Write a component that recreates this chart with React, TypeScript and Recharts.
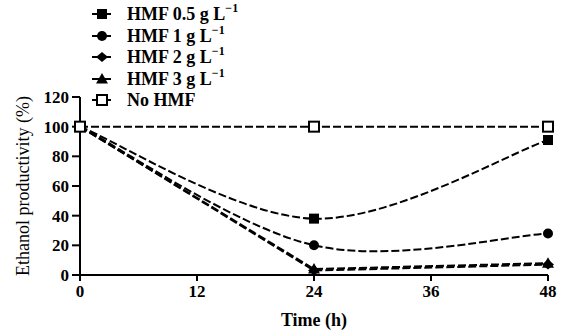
import React from "react";
import { LineChart, Line, XAxis, YAxis, Label } from "recharts";

const times = [0, 24, 48];
const hmf05 = [100, 38, 91];
const hmf1 = [100, 20, 28];
const hmf2 = [100, 3, 7];
const hmf3 = [100, 4, 8];
const noHmf = [100, 100, 100];
const xTicks = [0, 12, 24, 36, 48];
const yTicks = [0, 20, 40, 60, 80, 100, 120];

const data = times.map((t, i) => ({
  t,
  hmf05: hmf05[i],
  hmf1: hmf1[i],
  hmf2: hmf2[i],
  hmf3: hmf3[i],
  noHmf: noHmf[i],
}));

const FONT = "'Liberation Serif', 'DejaVu Serif', 'Times New Roman', serif";

// Catmull-Rom style curve factory (d3 curve interface)
const catmullRom = (context: any) => {
  let pts: number[][] = [];
  return {
    areaStart() {},
    areaEnd() {},
    lineStart() {
      pts = [];
    },
    point(x: number, y: number) {
      pts.push([+x, +y]);
    },
    lineEnd() {
      const n = pts.length;
      if (!n) return;
      context.moveTo(pts[0][0], pts[0][1]);
      const tan = (i: number) => {
        const a = pts[Math.max(0, i - 1)];
        const b = pts[Math.min(n - 1, i + 1)];
        return [(b[0] - a[0]) / 2, (b[1] - a[1]) / 2];
      };
      for (let i = 0; i < n - 1; i++) {
        const t0 = tan(i);
        const t1 = tan(i + 1);
        context.bezierCurveTo(
          pts[i][0] + t0[0] / 3,
          pts[i][1] + t0[1] / 3,
          pts[i + 1][0] - t1[0] / 3,
          pts[i + 1][1] - t1[1] / 3,
          pts[i + 1][0],
          pts[i + 1][1]
        );
      }
    },
  };
};

type Shape = "square" | "circle" | "diamond" | "triangle" | "open";

function Marker({ cx, cy, shape }: { cx: number; cy: number; shape: Shape }) {
  if (cx == null || cy == null) return null;
  switch (shape) {
    case "square":
      return <rect x={cx - 5} y={cy - 5} width={10} height={10} fill="#000" />;
    case "circle":
      return <circle cx={cx} cy={cy} r={5} fill="#000" />;
    case "diamond":
      return (
        <polygon
          points={`${cx},${cy - 5} ${cx + 6},${cy} ${cx},${cy + 5} ${cx - 6},${cy}`}
          fill="#000"
        />
      );
    case "triangle":
      return (
        <polygon
          points={`${cx},${cy - 6} ${cx + 6},${cy + 4.5} ${cx - 6},${cy + 4.5}`}
          fill="#000"
        />
      );
    case "open":
      return (
        <rect
          x={cx - 5}
          y={cy - 5}
          width={10}
          height={10}
          fill="#fff"
          stroke="#000"
          strokeWidth={2}
        />
      );
  }
  return null;
}

const makeDot = (shape: Shape) => (props: any) =>
  <Marker key={`${shape}-${props.index}`} cx={props.cx} cy={props.cy} shape={shape} />;

const series: { key: string; shape: Shape; label: string; sup: boolean; curve: any }[] = [
  { key: "hmf05", shape: "square", label: "HMF 0.5 g L", sup: true, curve: catmullRom },
  { key: "hmf1", shape: "circle", label: "HMF 1 g L", sup: true, curve: catmullRom },
  { key: "hmf2", shape: "diamond", label: "HMF 2 g L", sup: true, curve: "linear" },
  { key: "hmf3", shape: "triangle", label: "HMF 3 g L", sup: true, curve: "linear" },
  { key: "noHmf", shape: "open", label: "No HMF", sup: false, curve: "linear" },
];

const legendRows = [14, 36, 57, 79, 100];

export default function App() {
  return (
    <div style={{ position: "absolute", left: 0, top: 0, width: 565, height: 331, background: "#fff" }}>
      <LineChart
        width={565}
        height={331}
        data={data}
        margin={{ top: 97, right: 17, bottom: 0, left: 0 }}
      >
        <XAxis
          dataKey="t"
          type="number"
          domain={[0, 48]}
          ticks={xTicks}
          interval={0}
          height={56}
          tickSize={6}
          tickMargin={4}
          axisLine={{ stroke: "#000", strokeWidth: 2 }}
          tickLine={{ stroke: "#000", strokeWidth: 2 }}
          tick={{ fill: "#000", fontSize: 17, fontWeight: "bold", fontFamily: FONT }}
        >
          <Label
            value="Time (h)"
            position="insideBottom"
            offset={5}
            style={{ fill: "#000", fontSize: 18, fontWeight: "bold", fontFamily: FONT }}
          />
        </XAxis>
        <YAxis
          type="number"
          domain={[0, 120]}
          ticks={yTicks}
          interval={0}
          width={80}
          tickSize={8}
          tickMargin={3}
          axisLine={{ stroke: "#000", strokeWidth: 2 }}
          tickLine={{ stroke: "#000", strokeWidth: 2 }}
          tick={{ fill: "#000", fontSize: 17, fontWeight: "bold", fontFamily: FONT }}
        >
          <Label
            value="Ethanol productivity (%)"
            angle={-90}
            position="insideLeft"
            offset={23}
            style={{ fill: "#000", fontSize: 18, fontFamily: FONT, textAnchor: "middle" }}
          />
        </YAxis>
        {series.map((s) => (
          <Line
            key={s.key}
            dataKey={s.key}
            type={s.curve}
            stroke="#000"
            strokeWidth={2}
            strokeDasharray="8 3"
            dot={makeDot(s.shape)}
            activeDot={false}
            isAnimationActive={false}
          />
        ))}
      </LineChart>
      <svg
        width={300}
        height={115}
        style={{ position: "absolute", left: 0, top: 0 }}
      >
        {series.map((s, i) => {
          const y = legendRows[i];
          return (
            <g key={s.key}>
              <line x1={92} x2={113} y1={y} y2={y} stroke="#000" strokeWidth={2} strokeDasharray="8 3" />
              <Marker cx={102} cy={y} shape={s.shape} />
              <text
                x={127}
                y={y + 6}
                fontFamily={FONT}
                fontSize={18}
                fontWeight="bold"
                fill="#000"
              >
                {s.label}
                {s.sup ? (
                  <tspan dy={-8} fontSize={12}>
                    −1
                  </tspan>
                ) : null}
              </text>
            </g>
          );
        })}
      </svg>
    </div>
  );
}
